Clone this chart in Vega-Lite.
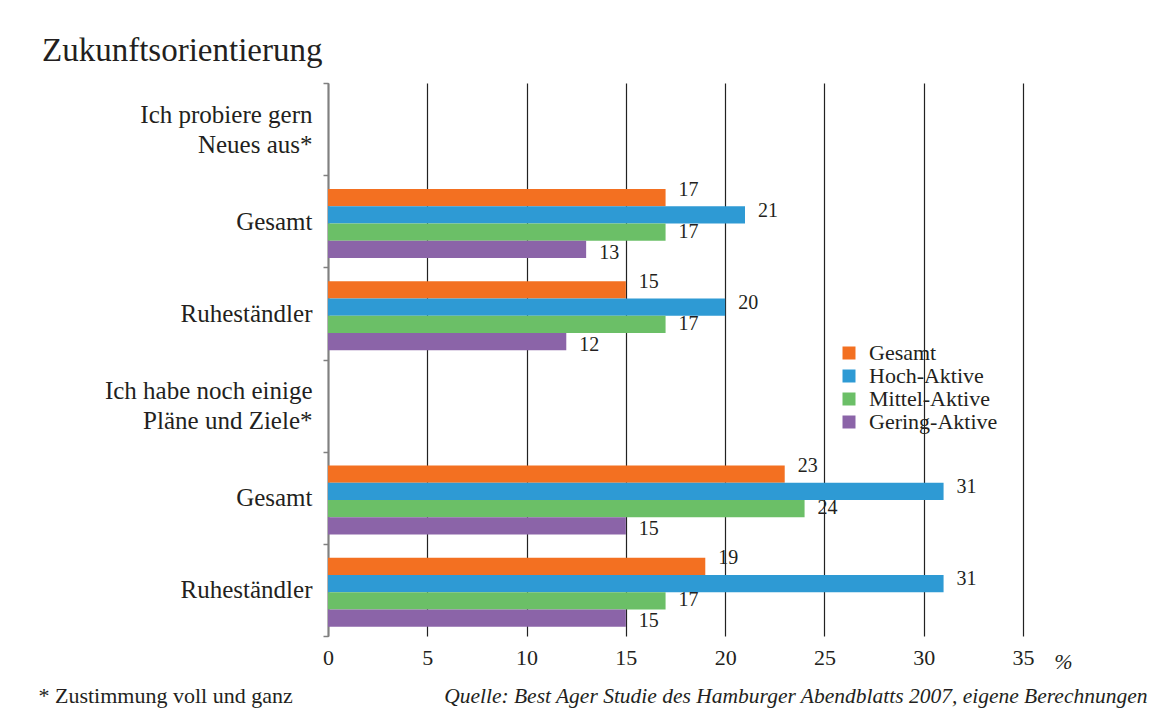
{
  "$schema": "https://vega.github.io/schema/vega-lite/v6.json",
  "width": 695,
  "height": 553,
  "autosize": {"type": "none"},
  "padding": {"left": 328, "top": 83, "right": 143, "bottom": 81},
  "background": "white",
  "config": {"view": {"stroke": null}, "font": "Liberation Serif"},
  "title": {
    "text": "Zukunftsorientierung",
    "anchor": "start",
    "frame": "group",
    "dx": -286,
    "dy": 44,
    "offset": 21,
    "baseline": "alphabetic",
    "fontSize": 33,
    "fontWeight": "normal",
    "font": "Liberation Serif",
    "color": "#231f20"
  },
  "data": {
    "values": [
      {"gruppe": "g1", "serie": "Gesamt", "wert": 17},
      {"gruppe": "g1", "serie": "Hoch-Aktive", "wert": 21},
      {"gruppe": "g1", "serie": "Mittel-Aktive", "wert": 17},
      {"gruppe": "g1", "serie": "Gering-Aktive", "wert": 13},
      {"gruppe": "r1", "serie": "Gesamt", "wert": 15},
      {"gruppe": "r1", "serie": "Hoch-Aktive", "wert": 20},
      {"gruppe": "r1", "serie": "Mittel-Aktive", "wert": 17},
      {"gruppe": "r1", "serie": "Gering-Aktive", "wert": 12},
      {"gruppe": "g2", "serie": "Gesamt", "wert": 23},
      {"gruppe": "g2", "serie": "Hoch-Aktive", "wert": 31},
      {"gruppe": "g2", "serie": "Mittel-Aktive", "wert": 24},
      {"gruppe": "g2", "serie": "Gering-Aktive", "wert": 15},
      {"gruppe": "r2", "serie": "Gesamt", "wert": 19},
      {"gruppe": "r2", "serie": "Hoch-Aktive", "wert": 31},
      {"gruppe": "r2", "serie": "Mittel-Aktive", "wert": 17},
      {"gruppe": "r2", "serie": "Gering-Aktive", "wert": 15}
    ]
  },
  "layer": [
    {
      "mark": {"type": "bar"},
      "encoding": {
        "y": {
          "field": "gruppe",
          "type": "nominal",
          "scale": {"domain": ["h1", "g1", "r1", "h2", "g2", "r2"], "paddingInner": 0, "paddingOuter": 0},
          "axis": {
            "labelExpr": "datum.value == 'h1' ? ['Ich probiere gern', 'Neues aus*'] : datum.value == 'h2' ? ['Ich habe noch einige', 'Pläne und Ziele*'] : (datum.value == 'g1' || datum.value == 'g2') ? 'Gesamt' : (datum.value == 'r1' || datum.value == 'r2') ? 'Ruheständler' : ''",
            "labelOffset": {"condition": {"test": "datum.value == 'h1' || datum.value == 'h2'", "value": -15}, "value": 0},
            "labelFont": "Liberation Serif",
            "labelFontSize": 25,
            "labelLineHeight": 30,
            "labelColor": "#231f20",
            "labelPadding": 11,
            "labelLimit": 400,
            "tickBand": "extent",
            "tickSize": 5,
            "tickColor": "#808080",
            "tickWidth": 1.5,
            "domainColor": "#808080",
            "domainWidth": 2,
            "grid": false,
            "title": "* Zustimmung voll und ganz",
            "titleAngle": 0,
            "titleX": -290,
            "titleY": 619,
            "titleAlign": "left",
            "titleBaseline": "alphabetic",
            "titleFont": "Liberation Serif",
            "titleFontSize": 22,
            "titleFontWeight": "normal",
            "titleColor": "#231f20"
          }
        },
        "yOffset": {
          "field": "serie",
          "type": "nominal",
          "sort": ["Gesamt", "Hoch-Aktive", "Mittel-Aktive", "Gering-Aktive"],
          "scale": {"paddingInner": 0, "paddingOuter": 0.67, "align": 0.6}
        },
        "x": {
          "field": "wert",
          "type": "quantitative",
          "scale": {"domain": [0, 35], "nice": false},
          "axis": {
            "values": [0, 5, 10, 15, 20, 25, 30, 35],
            "labelFlush": false,
            "labelFont": "Liberation Serif",
            "labelFontSize": 22,
            "labelColor": "#231f20",
            "labelPadding": 11,
            "domain": false,
            "ticks": false,
            "grid": true,
            "gridColor": "#222222",
            "gridWidth": 1.2,
            "gridOpacity": 1,
            "title": "Quelle: Best Ager Studie des Hamburger Abendblatts 2007, eigene Berechnungen",
            "titleX": 819,
            "titleY": 66,
            "titleAlign": "right",
            "titleAnchor": null,
            "titleBaseline": "alphabetic",
            "titleFont": "Liberation Serif",
            "titleFontStyle": "italic",
            "titleFontSize": 21.5,
            "titleFontWeight": "normal",
            "titleColor": "#231f20"
          }
        },
        "color": {
          "field": "serie",
          "type": "nominal",
          "scale": {
            "domain": ["Gesamt", "Hoch-Aktive", "Mittel-Aktive", "Gering-Aktive"],
            "range": ["#f37021", "#2e9ad4", "#6bbf67", "#8b64a8"]
          },
          "legend": {
            "orient": "none",
            "legendX": 510,
            "legendY": 259,
            "title": null,
            "padding": 0,
            "symbolType": "square",
            "symbolSize": 169,
            "symbolStrokeWidth": 0,
            "symbolOpacity": 1,
            "labelFont": "Liberation Serif",
            "labelFontSize": 22,
            "labelColor": "#231f20",
            "labelOffset": 9,
            "rowPadding": 1
          }
        }
      }
    },
    {
      "mark": {"type": "text", "align": "left", "baseline": "middle", "dx": 13, "fontSize": 20, "font": "Liberation Serif", "color": "#231f20"},
      "encoding": {
        "y": {"field": "gruppe", "type": "nominal"},
        "yOffset": {
          "field": "serie",
          "type": "nominal",
          "sort": ["Gesamt", "Hoch-Aktive", "Mittel-Aktive", "Gering-Aktive"],
          "scale": {"type": "point", "padding": 0.7, "align": 0.5}
        },
        "x": {
          "field": "wert",
          "type": "quantitative",
          "axis": {
            "orient": "top",
            "labels": false,
            "ticks": false,
            "domain": false,
            "grid": false,
            "title": "%",
            "titleX": 735,
            "titleY": 585,
            "titleAlign": "center",
            "titleAnchor": null,
            "titleBaseline": "alphabetic",
            "titleFont": "Liberation Serif",
            "titleFontStyle": "italic",
            "titleFontSize": 22,
            "titleFontWeight": "normal",
            "titleColor": "#231f20"
          }
        },
        "text": {"field": "wert", "type": "quantitative"}
      }
    }
  ],
  "resolve": {"scale": {"yOffset": "independent"}, "axis": {"x": "independent"}}
}
